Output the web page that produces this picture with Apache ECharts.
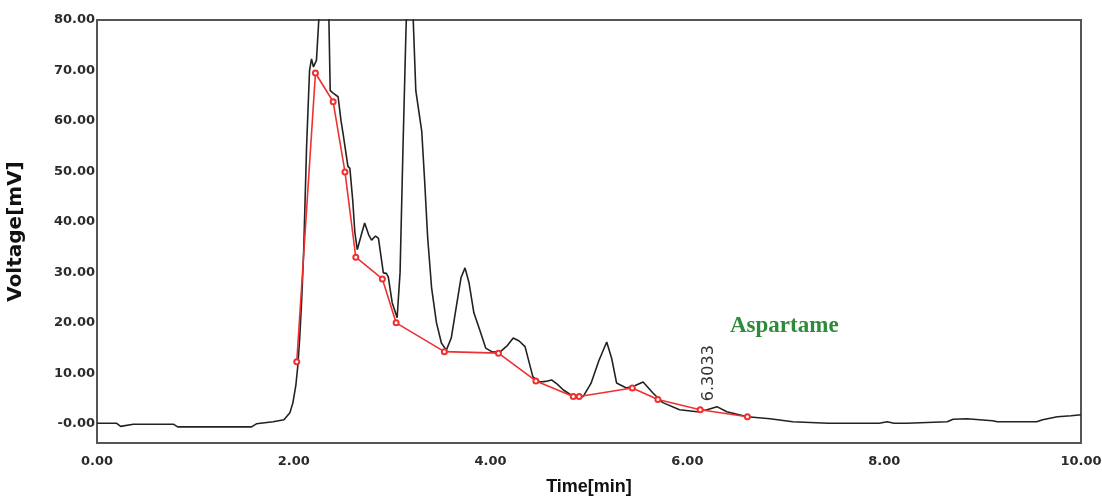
<!DOCTYPE html>
<html>
<head>
<meta charset="utf-8">
<script src="https://cdn.jsdelivr.net/npm/echarts@6/dist/echarts.min.js"></script>
<style>html,body{margin:0;padding:0;background:#fff}#c{width:1102px;height:499px}</style>
</head>
<body>
<div id="c"></div>
<script>
// Chromatogram trace (time in min, voltage in mV)
const traceTime = [0.00,0.20,0.24,0.37,0.78,0.82,1.57,1.62,1.79,1.90,1.96,1.99,2.02,2.04,2.06,2.08,2.10,2.13,2.16,2.18,2.20,2.23,2.26,2.31,2.355,2.37,2.40,2.45,2.48,2.50,2.55,2.57,2.60,2.62,2.645,2.68,2.72,2.76,2.79,2.83,2.86,2.91,2.94,2.96,3.00,3.05,3.08,3.11,3.14,3.18,3.21,3.24,3.27,3.30,3.33,3.36,3.40,3.45,3.50,3.55,3.60,3.65,3.70,3.74,3.78,3.83,3.89,3.95,4.02,4.10,4.17,4.23,4.29,4.35,4.43,4.50,4.56,4.62,4.68,4.74,4.81,4.88,4.94,5.02,5.10,5.18,5.23,5.28,5.38,5.47,5.55,5.65,5.75,5.92,6.10,6.20,6.30,6.40,6.61,6.84,7.07,7.43,7.95,8.03,8.10,8.23,8.64,8.70,8.84,9.10,9.15,9.55,9.61,9.76,9.90,10.00];
const traceVolt = [0.1,0.1,-0.5,-0.1,-0.1,-0.6,-0.6,0.0,0.4,0.8,2.2,4.1,7.5,11.3,17.0,24.5,34.0,55.0,70.0,72.3,70.7,72.0,82.0,100.0,82.0,66.0,65.5,64.8,60.0,57.6,51.0,50.6,44.0,38.0,34.5,37.0,39.8,37.5,36.4,37.2,36.8,29.9,29.8,29.1,24.0,21.0,30.0,55.0,78.0,100.0,82.0,66.0,62.0,58.0,48.0,37.0,27.0,20.0,16.0,14.6,17.0,23.0,29.0,30.9,28.0,22.0,18.6,15.0,14.2,14.3,15.5,17.0,16.4,15.3,9.3,8.3,8.4,8.7,7.8,6.7,5.8,5.1,5.4,8.0,12.5,16.2,13.0,8.1,7.1,7.6,8.3,6.1,4.2,2.8,2.4,2.8,3.4,2.4,1.4,1.0,0.4,0.1,0.1,0.4,0.1,0.1,0.4,0.9,1.0,0.6,0.4,0.4,0.8,1.4,1.6,1.8];

// Baseline (red) integration points
const baseTime = [2.03,2.22,2.40,2.52,2.63,2.90,3.04,3.53,4.08,4.46,4.84,4.90,5.44,5.70,6.13,6.61];
const baseVolt = [12.3,69.5,63.8,49.9,33.0,28.7,20.0,14.3,14.0,8.5,5.4,5.4,7.1,4.8,2.8,1.4];

// Axis ticks
const xTicks = [0,2,4,6,8,10];
const yTicks = [0,10,20,30,40,50,60,70,80];

// Annotation
const peakLabelTime = 6.3033;
const peakLabelVolt = 3.4;
const compoundName = 'Aspartame';

const zip = (a,b)=>a.map((v,i)=>[v,b[i]]);
const chart = echarts.init(document.getElementById('c'), null, {renderer:'canvas'});
const labelStyle = {color:'#2b2b2b', fontFamily:'DejaVu Sans', fontSize:13, fontWeight:'bold'};

chart.setOption({
  animation:false,
  backgroundColor:'#fff',
  grid:{left:97, top:20, right:21, bottom:56, containLabel:false, outerBoundsMode:'none',
        show:true, borderColor:'#555', borderWidth:2, backgroundColor:'transparent'},
  xAxis:{
    type:'value', min:0, max:10, interval:2,
    name:'Time[min]', nameLocation:'middle', nameGap:35,
    nameTextStyle:{color:'#111', fontSize:18, fontWeight:'bold', fontFamily:'Liberation Sans, Arial'},
    axisLine:{show:true, onZero:false, lineStyle:{color:'#555', width:2}},
    axisTick:{show:false},
    splitLine:{show:false},
    axisLabel:Object.assign({margin:12, formatter:v=>v.toFixed(2), customValues:xTicks}, labelStyle)
  },
  yAxis:{
    type:'value', min:-3.8, max:80,
    name:'Voltage[mV]', nameLocation:'middle', nameGap:71, nameRotate:90,
    nameTextStyle:{color:'#111', fontSize:20, fontWeight:'bold', fontFamily:'DejaVu Sans'},
    axisLine:{show:true, onZero:false, lineStyle:{color:'#555', width:2}},
    axisTick:{show:false, customValues:yTicks},
    splitLine:{show:false},
    axisLabel:Object.assign({margin:2, customValues:yTicks, formatter:v=>(v===0?'-0.00':v.toFixed(2))}, labelStyle)
  },
  series:[
    {
      type:'line', data:zip(traceTime,traceVolt), showSymbol:false, symbol:'none',
      lineStyle:{color:'#222', width:1.6}, clip:true, z:2,
      markPoint:{
        symbol:'circle', symbolSize:1,
        itemStyle:{color:'rgba(0,0,0,0)'},
        label:{show:true, position:'top', rotate:90, distance:7, align:'left', verticalAlign:'middle',
               offset:[-2,-8], color:'#333', fontSize:16, fontFamily:'DejaVu Sans',
               formatter:()=>peakLabelTime.toFixed(4)},
        data:[{coord:[peakLabelTime, peakLabelVolt]}]
      }
    },
    {
      type:'line', data:zip(baseTime,baseVolt), symbol:'emptyCircle', symbolSize:5, showSymbol:true,
      lineStyle:{color:'#f03030', width:1.6}, itemStyle:{color:'#f03030', borderWidth:1.5}, z:3
    }
  ],
  graphic:[{
    type:'text', left:730, top:315,
    style:{text:compoundName, fill:'#2e8b3a', font:'bold 23px "Liberation Serif", "Times New Roman", serif'}
  }]
});
</script>
</body>
</html>
